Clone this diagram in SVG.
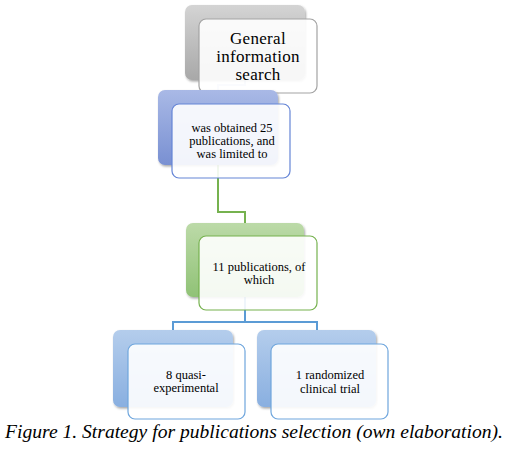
<svg xmlns="http://www.w3.org/2000/svg" width="509" height="454" viewBox="0 0 509 454">
  <defs>
    <linearGradient id="gGray" x1="0" y1="0" x2="0" y2="1">
      <stop offset="0" stop-color="#d4d4d4"/>
      <stop offset="1" stop-color="#a8a8a8"/>
    </linearGradient>
    <linearGradient id="gBlue" x1="0" y1="0" x2="0" y2="1">
      <stop offset="0" stop-color="#a9b9e6"/>
      <stop offset="1" stop-color="#7990d2"/>
    </linearGradient>
    <linearGradient id="gGreen" x1="0" y1="0" x2="0" y2="1">
      <stop offset="0" stop-color="#bcdaa8"/>
      <stop offset="1" stop-color="#90c276"/>
    </linearGradient>
    <linearGradient id="gLBlue" x1="0" y1="0" x2="0" y2="1">
      <stop offset="0" stop-color="#b4cdec"/>
      <stop offset="1" stop-color="#89afe0"/>
    </linearGradient>
    <filter id="sh" x="-10%" y="-10%" width="120%" height="125%">
      <feDropShadow dx="1" dy="1.5" stdDeviation="1.2" flood-color="#000" flood-opacity="0.35"/>
    </filter>
  </defs>
  <style>
    .back { filter: url(#sh); }
    .front { fill: #ffffff; fill-opacity: 0.9; stroke-width: 1.2; }
    .t { font-family: 'Liberation Serif', 'DejaVu Serif', serif; fill: #000; text-anchor: middle; }
    .big { font-size: 17px; letter-spacing: 0.3px; }
    .sm { font-size: 12.5px; }
    .cap { font-family: 'Liberation Serif', 'DejaVu Serif', serif; font-style: italic; font-size: 19.5px; fill: #000; }
    .conn { fill: none; stroke-width: 2; }
  </style>

  <g id="connectors">
    <path class="conn" d="M245 80 V85 H218 V90" stroke="#c6d2ee"/>
    <path class="conn" d="M218 165 V212 H245 V223" stroke="#76b24f"/>
    <path class="conn" d="M245 297 V322 H173 V330" stroke="#5b9bd5"/>
    <path class="conn" d="M245 322 H317 V330" stroke="#5b9bd5"/>
  </g>

  <g id="node-general">
    <rect class="back" x="185" y="5" width="120" height="75" rx="7" fill="url(#gGray)"/>
    <rect class="front" x="199" y="19" width="118" height="74" rx="7" stroke="#a3a3a3"/>
    <text class="t big" x="258" y="44">General</text>
    <text class="t big" x="258" y="62">information</text>
    <text class="t big" x="258" y="80">search</text>
  </g>

  <g id="node-obtained">
    <rect class="back" x="158" y="90" width="120" height="75" rx="7" fill="url(#gBlue)"/>
    <rect class="front" x="172" y="104" width="118" height="74" rx="7" stroke="#6585d6"/>
    <text class="t sm" x="232" y="131.5">was obtained 25</text>
    <text class="t sm" x="232" y="145">publications, and</text>
    <text class="t sm" x="232" y="158">was limited to</text>
  </g>

  <g id="node-eleven">
    <rect class="back" x="186" y="223" width="118" height="74" rx="7" fill="url(#gGreen)"/>
    <rect class="front" x="199" y="236" width="118" height="74" rx="7" stroke="#76b24f"/>
    <text class="t sm" x="259" y="270.5">11 publications, of</text>
    <text class="t sm" x="259" y="284">which</text>
  </g>

  <g id="node-quasi">
    <rect class="back" x="113" y="330" width="120" height="77" rx="7" fill="url(#gLBlue)"/>
    <rect class="front" x="128" y="344" width="117" height="75" rx="7" stroke="#6fa6dd"/>
    <text class="t sm" x="186" y="379">8 quasi-</text>
    <text class="t sm" x="186" y="392">experimental</text>
  </g>

  <g id="node-rct">
    <rect class="back" x="257" y="330" width="119" height="77" rx="7" fill="url(#gLBlue)"/>
    <rect class="front" x="271" y="344" width="117" height="75" rx="7" stroke="#6fa6dd"/>
    <text class="t sm" x="330" y="379">1 randomized</text>
    <text class="t sm" x="330" y="392.5">clinical trial</text>
  </g>

  <text class="cap" x="5" y="438" textLength="498" lengthAdjust="spacingAndGlyphs">Figure 1. Strategy for publications selection (own elaboration).</text>
</svg>
